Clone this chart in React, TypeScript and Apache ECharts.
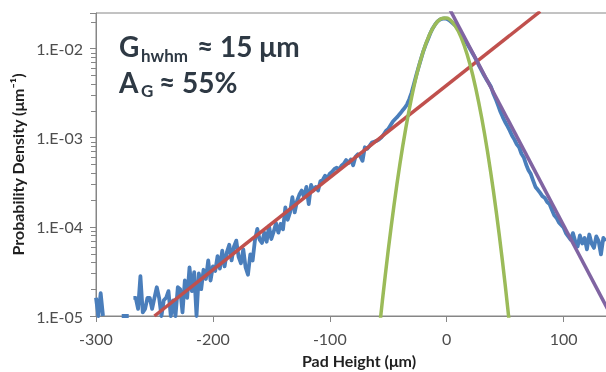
import React, { useEffect, useRef } from 'react';
import * as echarts from 'echarts';

// Measured histogram (pad height in µm, probability density in µm^-1); null = empty bin
const blueX: number[] = [
  -300, -298, -296, -294, -292, -290, -288, -286, -284, -282,
  -280, -278, -276, -274, -272, -270, -268, -266, -264, -262,
  -260, -258, -256, -254, -252, -250, -248, -246, -244, -242,
  -240, -238, -236, -234, -232, -230, -228, -226, -224, -222,
  -220, -218, -216, -214, -212, -210, -208, -206, -204, -202,
  -200, -198, -196, -194, -192, -190, -188, -186, -184, -182,
  -180, -178, -176, -174, -172, -170, -168, -166, -164, -162,
  -160, -158, -156, -154, -152, -150, -148, -146, -144, -142,
  -140, -138, -136, -134, -132, -130, -128, -126, -124, -122,
  -120, -118, -116, -114, -112, -110, -108, -106, -104, -102,
  -100, -98, -96, -94, -92, -90, -88, -86, -84, -82,
  -80, -78, -76, -74, -72, -70, -68, -66, -64, -62,
  -60, -58, -56, -54, -52, -50, -48, -46, -44, -42,
  -40, -38, -36, -34, -32, -30, -28, -26, -24, -22,
  -20, -18, -16, -14, -12, -10, -8, -6, -4, -2,
  0, 2, 4, 6, 8, 10, 12, 14, 16, 18,
  20, 22, 24, 26, 28, 30, 32, 34, 36, 38,
  40, 42, 44, 46, 48, 50, 52, 54, 56, 58,
  60, 62, 64, 66, 68, 70, 72, 74, 76, 78,
  80, 82, 84, 86, 88, 90, 92, 94, 96, 98,
  100, 102, 104, 106, 108, 110, 112, 114, 116, 118,
  120, 122, 124, 126, 128, 130, 132, 134, 136,
];
const blueY: (number | null)[] = [
  1.6e-5, 1.0e-5, 1.8e-5, 1.0e-5, null, null, null, null, null, null,
  null, 1.0e-5, 1.0e-5, 1.0e-5, 1.0e-5, null, 1.6e-5, 1.6e-5, 1.2e-5, 2.8e-5,
  1.1e-5, 1.2e-5, 1.6e-5, 1.6e-5, 1.2e-5, 1.6e-5, 2.1e-5, 1.6e-5, 1.0e-5, 1.5e-5,
  1.6e-5, 1.9e-5, 1.0e-5, 1.5e-5, 1.0e-5, 2.1e-5, 2.0e-5, 1.1e-5, 2.5e-5, 1.6e-5,
  3.5e-5, 1.9e-5, 3.1e-5, 1.0e-5, 3.0e-5, 2.0e-5, 3.3e-5, 2.6e-5, 4.2e-5, 2.5e-5,
  3.6e-5, 3.2e-5, 4.7e-5, 3.4e-5, 5.4e-5, 3.6e-5, 5.2e-5, 6.3e-5, 4.2e-5, 6.0e-5,
  7.0e-5, 4.6e-5, 3.9e-5, 5.6e-5, 3.5e-5, 2.9e-5, 4.9e-5, 4.2e-5, 7.1e-5, 9.5e-5,
  7.2e-5, 6.6e-5, 8.6e-5, 6.8e-5, 1.02e-4, 7.3e-5, 8.8e-5, 1.1e-4, 8.6e-5, 1.08e-4,
  9.4e-5, 1.65e-4, 1.2e-4, 1.45e-4, 2.15e-4, 1.45e-4, 1.95e-4, 2.3e-4, 2.55e-4, 2.15e-4,
  2.8e-4, 1.8e-4, 2.95e-4, 2.55e-4, 2.8e-4, 2.55e-4, 3.25e-4, 3.35e-4, 3.75e-4, 3.5e-4,
  3.95e-4, 4.15e-4, 4.45e-4, 4.6e-4, 4.4e-4, 4.85e-4, 5.1e-4, 5.6e-4, 5.2e-4, 5.7e-4,
  4.9e-4, 6.1e-4, 6.5e-4, 6.2e-4, 5.5e-4, 7.8e-4, 7.5e-4, 8.1e-4, 8.8e-4, 9.0e-4,
  9.2e-4, 9.5e-4, 1.0e-3, 1.08e-3, 1.19e-3, 1.25e-3, 1.38e-3, 1.52e-3, 1.62e-3, 1.72e-3,
  1.85e-3, 2.0e-3, 2.15e-3, 2.35e-3, 2.7e-3, 3.2e-3, 4.0e-3, 5.0e-3, 6.2e-3, 7.6e-3,
  9.3e-3, 1.1e-2, 1.27e-2, 1.48e-2, 1.68e-2, 1.85e-2, 2.0e-2, 2.1e-2, 2.15e-2, 2.17e-2,
  2.15e-2, 2.08e-2, 1.98e-2, 1.88e-2, 1.78e-2, 1.65e-2, 1.5e-2, 1.35e-2, 1.22e-2, 1.1e-2,
  9.9e-3, 8.9e-3, 8.0e-3, 7.1e-3, 6.3e-3, 5.6e-3, 5.0e-3, 4.5e-3, 4.1e-3, 3.7e-3,
  3.1e-3, 2.7e-3, 2.3e-3, 1.95e-3, 1.7e-3, 1.5e-3, 1.35e-3, 1.2e-3, 1.05e-3, 9.5e-4,
  8.4e-4, 7.8e-4, 6.6e-4, 6.0e-4, 5.0e-4, 4.3e-4, 3.9e-4, 3.3e-4, 2.8e-4, 2.6e-4,
  2.4e-4, 2.2e-4, 2.1e-4, 1.9e-4, 1.8e-4, 1.55e-4, 1.35e-4, 1.26e-4, 1.12e-4, 1.05e-4,
  9.8e-5, 8.5e-5, 7.8e-5, 7.2e-5, 8.5e-5, 6.9e-5, 6.0e-5, 8.0e-5, 6.5e-5, 7.5e-5,
  5.6e-5, 8.2e-5, 6.5e-5, 5.8e-5, 7.8e-5, 6.9e-5, 4.9e-5, 7.5e-5, 6.9e-5,
];

// Exponential tail fit (left side)
const redX: number[] = [-250, 80];
const redY: number[] = [1.0e-5, 2.6e-2];

// Gaussian core fit
const greenX: number[] = [-57, -55, -50, -45, -40, -35, -30, -25, -20, -15, -10, -5, 0, 5, 10, 15, 20, 25, 30, 35, 40, 45, 50, 55];
const greenY: number[] = [
  8.4e-6, 1.48e-5, 5.46e-5, 1.77e-4, 5.07e-4, 1.27e-3, 2.82e-3, 5.5e-3, 9.3e-3, 1.4e-2, 1.85e-2, 2.15e-2,
  2.2e-2, 1.97e-2, 1.56e-2, 1.08e-2, 6.6e-3, 3.53e-3, 1.66e-3, 6.9e-4, 2.52e-4, 8.1e-5, 2.28e-5, 5.6e-6,
];

// Exponential tail fit (right side)
const purpleX: number[] = [0, 140];
const purpleY: number[] = [3.2e-2, 1.05e-5];

// Axis settings
const xTicks = { min: -300, max: 150, step: 100 };
const yRange = { min: 1e-5, max: 0.025 };
const yMinorTicks: number[] = [
  2e-5, 3e-5, 4e-5, 5e-5, 6e-5, 7e-5, 8e-5, 9e-5,
  2e-4, 3e-4, 4e-4, 5e-4, 6e-4, 7e-4, 8e-4, 9e-4,
  2e-3, 3e-3, 4e-3, 5e-3, 6e-3, 7e-3, 8e-3, 9e-3,
  2e-2,
];

const GREY = '#868686';
const FONT = 'Lato';

export default function App() {
  const ref = useRef<HTMLDivElement>(null);
  useEffect(() => {
    if (!ref.current) return;
    const chart = echarts.init(ref.current, null, { renderer: 'svg' });
    const fmtLog = (v: number) => {
      const e = Math.log10(v);
      const r = Math.round(e);
      if (Math.abs(e - r) > 1e-6) return '';
      return '1.E' + (r < 0 ? '-' : '+') + String(Math.abs(r)).padStart(2, '0');
    };
    const pairs = (xs: number[], ys: (number | null)[]) => xs.map((x, i) => [x, ys[i]]);
    const annColor = '#2e3944';
    const big = 28;
    chart.setOption({
      animation: false,
      grid: {
        left: 96, right: 18, top: 13, bottom: 56,
        outerBoundsMode: 'none', containLabel: false,
        show: true, borderColor: GREY, borderWidth: 1, backgroundColor: 'transparent',
      },
      xAxis: {
        type: 'value',
        min: xTicks.min,
        max: xTicks.max,
        interval: xTicks.step,
        axisLine: { show: true, onZero: false, lineStyle: { color: GREY, width: 1 } },
        axisTick: { show: true, length: 6, lineStyle: { color: GREY } },
        axisLabel: {
          formatter: (v: number) => (v % 100 === 0 ? String(v) : ''),
          color: '#4d4d4d', fontFamily: FONT, fontSize: 16, margin: 14, showMaxLabel: false,
        },
        splitLine: { show: false },
        name: 'Pad Height (μm)',
        nameLocation: 'middle',
        nameGap: 36,
        nameTextStyle: { fontFamily: FONT, fontWeight: 'bold', fontSize: 16, color: '#1f1f1f' },
      },
      yAxis: {
        type: 'log',
        logBase: 10,
        min: yRange.min,
        max: yRange.max,
        axisLine: { show: true, onZero: false, lineStyle: { color: GREY, width: 1 } },
        axisTick: { show: true, length: 6, lineStyle: { color: GREY } },
        axisLabel: { formatter: fmtLog, color: '#4d4d4d', fontFamily: FONT, fontSize: 16, margin: 13 },
        splitLine: { show: false },
        minorTick: { show: false },
        name: 'Probability Density (μm⁻¹)',
        nameLocation: 'middle',
        nameGap: 70,
        nameTextStyle: { fontFamily: FONT, fontWeight: 'bold', fontSize: 16, color: '#1f1f1f' },
      },
      series: [
        {
          type: 'line', data: pairs(blueX, blueY), symbol: 'none', connectNulls: false,
          lineStyle: { color: '#4a7ebb', width: 3.8, join: 'round' }, z: 2,
        },
        {
          type: 'line', data: pairs(redX, redY), symbol: 'none',
          lineStyle: { color: '#c0504d', width: 3.5 }, z: 3,
        },
        {
          type: 'line', data: pairs(greenX, greenY), symbol: 'none', smooth: 0.3,
          lineStyle: { color: '#9bbb59', width: 3.5 }, z: 4,
        },
        {
          type: 'line', data: pairs(purpleX, purpleY), symbol: 'none',
          lineStyle: { color: '#8064a2', width: 3.5 }, z: 5,
        },
        {
          type: 'custom', clip: false, silent: true,
          data: yMinorTicks.map((v) => [xTicks.min, v]),
          renderItem: (_p: any, api: any) => {
            const pt = api.coord([api.value(0), api.value(1)]);
            const y = Math.round(pt[1]) + 0.5;
            return { type: 'line', shape: { x1: pt[0] - 5, y1: y, x2: pt[0], y2: y }, style: { stroke: GREY, lineWidth: 1 } };
          },
          z: 6,
        },
      ],
      graphic: [
        { type: 'text', x: 119, y: 46, style: { text: 'G', fontFamily: FONT, fontWeight: 'bold', fontSize: big, fill: annColor, verticalAlign: 'middle' } },
        { type: 'text', x: 141, y: 55, style: { text: 'hwhm', fontFamily: FONT, fontWeight: 'bold', fontSize: 17, fill: annColor, verticalAlign: 'middle' } },
        { type: 'text', x: 197, y: 46, style: { text: '≈ 15 μm', fontFamily: FONT, fontWeight: 'bold', fontSize: big, fill: annColor, verticalAlign: 'middle' } },
        { type: 'text', x: 119, y: 82, style: { text: 'A', fontFamily: FONT, fontWeight: 'bold', fontSize: big, fill: annColor, verticalAlign: 'middle' } },
        { type: 'text', x: 141, y: 90, style: { text: 'G', fontFamily: FONT, fontWeight: 'bold', fontSize: 17, fill: annColor, verticalAlign: 'middle' } },
        { type: 'text', x: 159, y: 82, style: { text: '≈ 55%', fontFamily: FONT, fontWeight: 'bold', fontSize: big, fill: annColor, verticalAlign: 'middle' } },
      ],
    });
    return () => chart.dispose();
  }, []);
  return <div ref={ref} style={{ position: 'fixed', left: 0, top: 0, width: 640, height: 372 }} />;
}
